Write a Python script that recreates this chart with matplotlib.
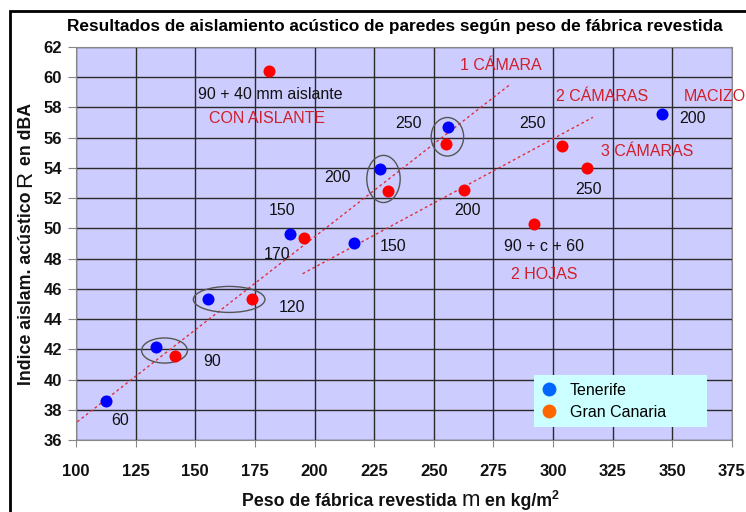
import numpy as np
import matplotlib.pyplot as plt
from matplotlib.patches import Ellipse, Rectangle
from matplotlib.lines import Line2D

plt.rcParams['font.family'] = ['Liberation Sans', 'DejaVu Sans']

# datos
tf_x = [112.6, 133.5, 155.2, 189.7, 216.7, 227.6, 256.0, 345.8]
tf_y = [38.6, 42.15, 45.35, 49.66, 49.04, 53.9, 56.74, 57.6]
gc_x = [141.5, 173.7, 180.8, 195.7, 230.8, 254.9, 262.7, 291.9, 303.8, 314.2]
gc_y = [41.55, 45.35, 60.4, 49.37, 52.47, 55.56, 52.53, 50.28, 55.45, 54.0]

# rectas de tendencia (extremos)
trend1_x = [100.5, 281.8]
trend1_y = [37.2, 59.5]
trend2_x = [195.0, 316.7]
trend2_y = [47.0, 57.35]

# etiquetas de espesor
lab_txt = ['60', '90', '120', '150', '170', '200', '150', '250', '250', '200', '250', '200', '90 + c + 60',
           '90 + 40 mm aislante']
lab_x = [118.7, 157.2, 190.7, 186.2, 184.3, 209.5, 232.9, 239.2, 291.3, 264.1, 314.7, 358.3, 296.1, 181.3]
lab_y = [37.26, 41.17, 44.77, 51.2, 48.3, 53.35, 48.8, 56.95, 56.95, 51.2, 52.6, 57.27, 48.77, 58.88]

# etiquetas de tipo (rojo)
grp_txt = ['1 CÁMARA', '2 CÁMARAS', 'MACIZO', '3 CÁMARAS', '2 HOJAS', 'CON AISLANTE']
grp_x = [278.0, 320.6, 367.8, 339.6, 296.1, 179.9]
grp_y = [60.75, 58.7, 58.7, 55.1, 46.98, 57.3]

# elipses: centro x, centro y, ancho, alto
ell_x = [137.1, 164.2, 228.9, 255.7]
ell_y = [41.92, 45.3, 53.27, 56.06]
ell_w = [19.2, 30.0, 14.0, 13.6]
ell_h = [1.66, 1.72, 3.12, 2.55]

fig = plt.figure(figsize=(7.46, 5.12), dpi=100)
ax = fig.add_axes([76 / 746, 1 - 440 / 512, 656 / 746, 393 / 512])
ax.set_facecolor('#ccccff')

ax.plot(trend1_x, trend1_y, color='#e0303a', ls=(0, (2, 2)), lw=1, zorder=2)
ax.plot(trend2_x, trend2_y, color='#e0303a', ls=(0, (2, 2)), lw=1, zorder=2)

for i in range(len(ell_x)):
    ax.add_patch(Ellipse((ell_x[i], ell_y[i]), ell_w[i], ell_h[i], fill=False,
                         ec='#555555', lw=1, zorder=3))

ax.scatter(tf_x, tf_y, s=75, color='#0000ff', zorder=4, linewidths=0)
ax.scatter(gc_x, gc_y, s=75, color='#ff0000', zorder=4, linewidths=0)

for t, x, y in zip(lab_txt, lab_x, lab_y):
    ax.text(x, y, t, ha='center', va='center', fontsize=11.5, color='#111111', zorder=5)
for t, x, y in zip(grp_txt, grp_x, grp_y):
    ax.text(x, y, t, ha='center', va='center', fontsize=11.5, color='#d01f2a', zorder=5, clip_on=False)

ax.set_xlim(100, 375)
ax.set_ylim(36, 62)
ax.set_xticks(np.arange(100, 376, 25))
ax.set_yticks(np.arange(36, 63, 2))
ax.grid(True, color='#2a2a2a', lw=1)
ax.set_axisbelow(True)
for sp in ax.spines.values():
    sp.set_color('#888888')
ax.tick_params(axis='both', direction='out', color='#888888', labelsize=12)
ax.tick_params(axis='y', length=6, pad=4)
ax.tick_params(axis='x', length=5, pad=12)
for lb in ax.get_xticklabels() + ax.get_yticklabels():
    lb.set_fontweight('bold')
    lb.set_color('#111111')

handles = [Line2D([], [], marker='o', ls='', color='#0066ff', markersize=9),
           Line2D([], [], marker='o', ls='', color='#ff6600', markersize=9)]
leg = ax.legend(handles, ['Tenerife', 'Gran Canaria'], loc='lower left',
                bbox_to_anchor=((534 - 76) / 656, (440 - 427) / 393, (707 - 534) / 656, (427 - 370) / 393),
                mode='expand', frameon=True, fancybox=False, prop={'size': 11.5},
                borderaxespad=0, handletextpad=0.8, borderpad=0.45, labelspacing=0.45, handlelength=1)
leg.get_frame().set_facecolor('#ccffff')
leg.get_frame().set_edgecolor('none')
leg.get_frame().set_alpha(1)

fig.text(395 / 746, 1 - 27 / 512, 'Resultados de aislamiento acústico de paredes según peso de fábrica revestida',
         ha='center', va='center', fontsize=12.4, fontweight='bold')

# marco exterior
fig.add_artist(Rectangle((10 / 746, -0.1), 1.2, 1 - 11 / 512 + 0.1, transform=fig.transFigure,
                         fill=False, ec='black', lw=2, clip_on=False))


# titulos de ejes con letra de magnitud mas grande
def piece_label(parts, x0, y0, vertical):
    fig.canvas.draw()
    r = fig.canvas.get_renderer()
    W, H = fig.bbox.width, fig.bbox.height
    pos = x0 if not vertical else y0
    for s, kw, dy in parts:
        if vertical:
            t = fig.text(x0 / W, 1 - pos / H, s, rotation=90, rotation_mode='anchor',
                         ha='left', va='baseline', **kw)
            pos -= t.get_window_extent(r).height
        else:
            t = fig.text(pos / W, 1 - (y0 - dy) / H, s, rotation_mode='anchor',
                         ha='left', va='baseline', **kw)
            pos += t.get_window_extent(r).width


bold = dict(fontsize=12.8, fontweight='bold', color='#111111')
big = dict(fontsize=16, color='#111111')
sup = dict(fontsize=9, fontweight='bold', color='#111111')
piece_label([('Peso de fábrica revestida ', bold, 0), ('m', big, 0), (' en kg/m', bold, 0),
             ('2', sup, 7)], 242, 506, False)
piece_label([('Indice aislam. acústico ', bold, 0), ('R', big, 0), (' en dBA', bold, 0)], 31, 385, True)

fig.savefig('out.png', dpi=100)
